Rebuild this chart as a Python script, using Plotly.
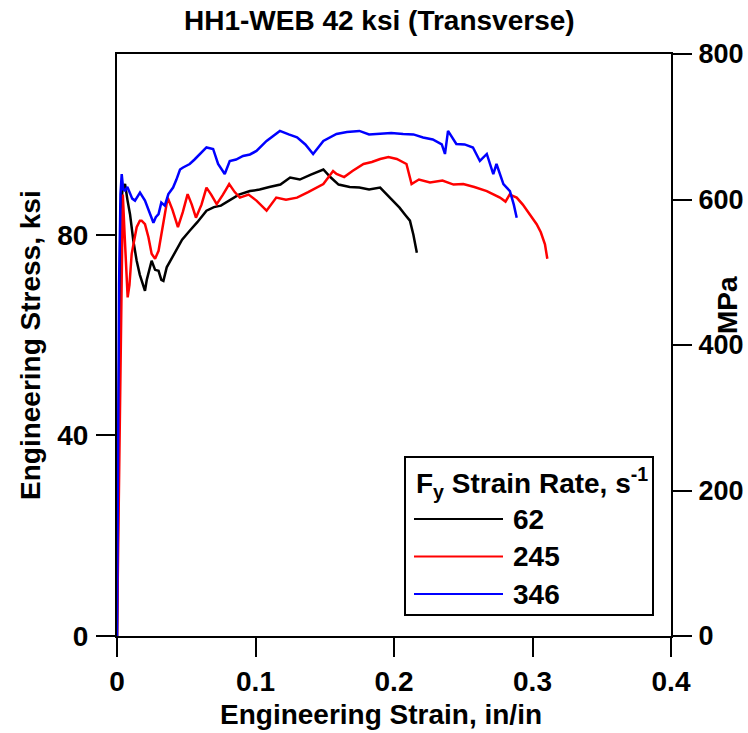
import plotly.graph_objects as go

# HH1-WEB 42 ksi (Transverse) - engineering stress/strain, three strain rates

KSI_TO_MPA = 6.89476

strain_62 = [0, 0.0008, 0.0015, 0.0025, 0.004, 0.0058, 0.0075, 0.0094, 0.0118, 0.0142,
             0.0165, 0.0185, 0.0202, 0.0215, 0.0227, 0.025, 0.0275, 0.03, 0.032, 0.0335,
             0.0359, 0.039, 0.043, 0.047, 0.0525, 0.058, 0.0646, 0.07, 0.075, 0.0814,
             0.088, 0.096, 0.103, 0.11, 0.118, 0.125, 0.132, 0.14, 0.149, 0.154,
             0.16, 0.168, 0.175, 0.182, 0.19, 0.197, 0.204, 0.208, 0.2115, 0.214,
             0.2158, 0.2165]
stress_62 = [0, 30, 60, 85, 89, 90.1, 87, 84.1, 78.8, 74.8,
             72, 70, 68.8, 71, 72.2, 74.8, 73, 72.8, 71, 70.8,
             73.5, 75, 77, 79, 80.8, 82.5, 84.8, 85.5, 85.8, 86.8,
             88, 88.7, 89, 89.5, 90, 91.4, 91, 92, 93, 91.5,
             90, 89.5, 89.4, 89, 89.4, 87.4, 85.4, 84, 82.8, 80,
             77.5, 76.4]

strain_245 = [0, 0.001, 0.002, 0.003, 0.0042, 0.0055, 0.0068, 0.0077, 0.009, 0.0106,
              0.0125, 0.0142, 0.0165, 0.0178, 0.0202, 0.0227, 0.025, 0.0275, 0.03, 0.0335,
              0.0366, 0.04, 0.044, 0.0475, 0.051, 0.054, 0.057, 0.061, 0.0646, 0.068,
              0.072, 0.0765, 0.081, 0.085, 0.0887, 0.095, 0.1007, 0.108, 0.115, 0.122,
              0.13, 0.138, 0.149, 0.156, 0.1585, 0.164, 0.17, 0.178, 0.184, 0.19,
              0.196, 0.202, 0.209, 0.2127, 0.218, 0.226, 0.235, 0.243, 0.25, 0.258,
              0.267, 0.2765, 0.2805, 0.2835, 0.2886, 0.293, 0.296, 0.303, 0.306, 0.309,
              0.3107]
stress_245 = [0, 20, 45, 70, 88, 80, 72, 67.5, 70, 76.2,
              79, 81.5, 82.8, 82.8, 82.1, 79.5, 76.2, 75.2, 76.8, 82.1,
              87.4, 85, 81.5, 84.5, 88.1, 86, 83.4, 86, 89.4, 88,
              86.1, 88, 90.1, 88.5, 87.4, 88, 86.8, 84.8, 87.4, 87,
              87.4, 88.5, 90.1, 92.7, 92.1, 91.5, 92.7, 94.1, 94.5, 95.1,
              95.5, 95.1, 94.1, 90.1, 91, 90.4, 90.8, 90, 90.1, 89.5,
              88.7, 87.4, 86.6, 88, 87.4, 86, 84.8, 82.1, 80.5, 78.1,
              75.2]

strain_346 = [0, 0.0008, 0.0015, 0.0025, 0.0034, 0.0045, 0.0058, 0.0075, 0.0094, 0.011,
              0.013, 0.0166, 0.0202, 0.0238, 0.0263, 0.028, 0.03, 0.032, 0.0345, 0.0371,
              0.0405, 0.0429, 0.0455, 0.0477, 0.0525, 0.056, 0.0598, 0.0646, 0.0694, 0.073,
              0.0778, 0.0814, 0.086, 0.091, 0.096, 0.1007, 0.108, 0.1176, 0.124, 0.13,
              0.136, 0.1416, 0.149, 0.1585, 0.166, 0.175, 0.182, 0.19, 0.198, 0.2066,
              0.214, 0.221, 0.228, 0.2345, 0.2368, 0.239, 0.245, 0.251, 0.257, 0.262,
              0.267, 0.2717, 0.274, 0.279, 0.2837, 0.2865, 0.2886]
stress_346 = [0, 35, 70, 88, 92.1, 89, 88.8, 89.5, 88.1, 87.2,
              86.8, 88.4, 86.8, 84.1, 82.4, 83.5, 84.1, 86.4, 85.8, 88.1,
              89.4, 91, 93, 93.4, 94.1, 95, 96.1, 97.4, 97.1, 94.1,
              92.1, 94.7, 95, 95.7, 96, 96.7, 98.7, 100.7, 100, 99.4,
              98, 96.1, 98.7, 100.1, 100.5, 100.7, 100, 100.1, 100.3, 100.1,
              100, 99.4, 99, 98, 96.1, 100.7, 98.1, 98, 97.4, 94.7,
              96.1, 92.1, 94.1, 90.1, 88.7, 86, 83.4]

rates = ["62", "245", "346"]
colors = ["#000000", "#FF0000", "#0000FF"]
x_ticks = [0, 0.1, 0.2, 0.3, 0.4]
ksi_ticks = [0, 40, 80]
mpa_ticks = [0, 200, 400, 600, 800]

W, H = 748, 733
L, R, T, B = 117, 671, 54, 636          # plot area in pixels
FONT = "Liberation Sans, Arial, sans-serif"
FS = 28


def px(x):
    return (x - L) / (R - L)


def py(y):
    return (B - y) / (B - T)


fig = go.Figure()
for sx, sy, name, col in zip([strain_62, strain_245, strain_346],
                             [stress_62, stress_245, stress_346], rates, colors):
    fig.add_trace(go.Scatter(x=sx, y=sy, mode="lines", name=name,
                             line=dict(color=col, width=2.5), showlegend=False))
# keeps the MPa axis alive
fig.add_trace(go.Scatter(x=[0], y=[0], yaxis="y2", mode="markers",
                         marker=dict(opacity=0), showlegend=False, hoverinfo="skip"))

tickfont = dict(family=FONT, size=FS, color="black", weight="bold")
axis_common = dict(showgrid=False, zeroline=False, showline=True, linewidth=2,
                   linecolor="black", ticks="outside", ticklen=19, tickwidth=2,
                   tickcolor="black", automargin=False)

fig.update_layout(
    width=W, height=H,
    paper_bgcolor="white", plot_bgcolor="white",
    margin=dict(l=L, r=W - R, t=T, b=H - B, pad=0, autoexpand=False),
    xaxis=dict(range=[0, 0.4], tickvals=x_ticks, tickfont=tickfont,
               ticktext=[f"{v:g}" for v in x_ticks], mirror=True, **axis_common),
    yaxis=dict(range=[0, 800 / KSI_TO_MPA], tickvals=ksi_ticks, tickfont=tickfont,
               ticklabelstandoff=2, **axis_common),
    yaxis2=dict(range=[0, 800], tickvals=mpa_ticks, overlaying="y", side="right",
                anchor="x", ticklabelstandoff=1,
                tickfont=dict(tickfont, size=27), **axis_common),
)

ann_font = dict(family=FONT, size=FS, color="black", weight="bold")
annotations = [
    dict(text="HH1-WEB 42 ksi (Transverse)", x=px(379), y=py(21)),
    dict(text="Engineering Strain, in/in", x=px(381), y=py(714)),
    dict(text="Engineering Stress, ksi", x=px(30), y=0.5, textangle=-90),
    dict(text="MPa", x=px(727), y=py(305), textangle=-90),
    dict(text="F<sub>y</sub> Strain Rate, s<sup>-1</sup>", x=px(414), y=py(483),
         xanchor="left"),
]
for a in annotations:
    fig.add_annotation(xref="paper", yref="paper", showarrow=False,
                       font=ann_font, xanchor=a.pop("xanchor", "center"),
                       yanchor="middle", **a)

# legend box drawn by hand (long line samples like the original)
fig.add_shape(type="rect", xref="paper", yref="paper",
              x0=px(405), x1=px(653), y0=py(615), y1=py(457),
              line=dict(color="black", width=2), fillcolor="white", layer="above")
for i, (name, col) in enumerate(zip(rates, colors)):
    yy = py(519 + i * 37.5)
    fig.add_shape(type="line", xref="paper", yref="paper",
                  x0=px(414), x1=px(503), y0=yy, y1=yy,
                  line=dict(color=col, width=2), layer="above")
    fig.add_annotation(xref="paper", yref="paper", x=px(511), y=yy, text=name,
                       showarrow=False, xanchor="left", yanchor="middle",
                       font=ann_font)

fig.write_html("out.html", config={"displayModeBar": False},
               post_script="document.body.style.margin='0';document.body.style.overflow='hidden';")
